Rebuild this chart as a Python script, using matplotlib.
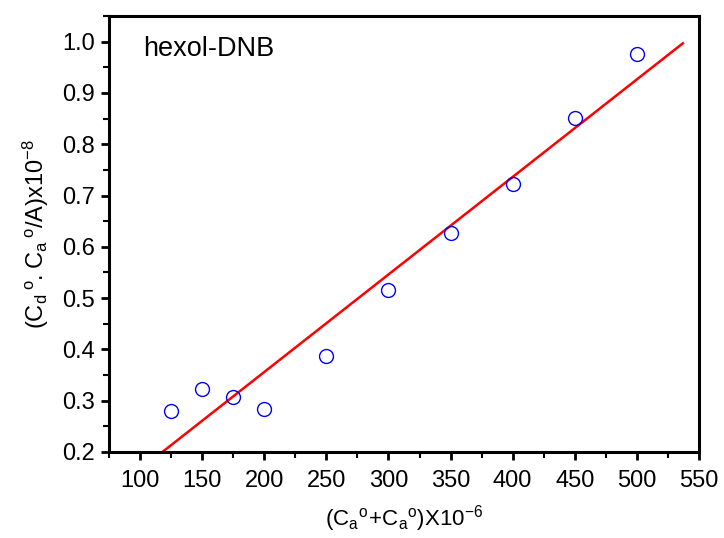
import matplotlib
matplotlib.use("Agg")
import matplotlib.pyplot as plt
from matplotlib.ticker import MultipleLocator
import numpy as np

plt.rcParams['font.family'] = ['Liberation Sans', 'DejaVu Sans']
plt.rcParams['mathtext.fontset'] = 'custom'
plt.rcParams['mathtext.rm'] = 'Liberation Sans'

# concentration sum (x 10^-6) and product ratio (x 10^-8)
conc = [125, 150, 175, 200, 250, 300, 350, 400, 450, 500]
ratio = [0.280, 0.323, 0.308, 0.283, 0.388, 0.515, 0.626, 0.722, 0.851, 0.975]
fit_range = [100, 537]

fig = plt.figure(figsize=(7.24, 5.38), dpi=100)
ax = fig.add_axes([109 / 724, 1 - 452 / 538, 590 / 724, 436 / 538])

slope, icept = np.polyfit(conc, ratio, 1)
xf = np.array(fit_range)
ax.plot(xf, slope * xf + icept, color='red', lw=1.8)
ax.plot(conc, ratio, 'o', mfc='none', mec='blue', ms=10, mew=1.0)

ax.set_xlim(75, 550)
ax.set_ylim(0.2, 1.05)
ax.xaxis.set_minor_locator(MultipleLocator(25))
ax.yaxis.set_minor_locator(MultipleLocator(0.05))
ax.set_yticks(np.arange(0.2, 1.01, 0.1))
ax.set_xticks(np.arange(100, 551, 50))

for s in ax.spines.values():
    s.set_linewidth(2.2)
ax.tick_params(which='major', direction='out', length=6, width=2, labelsize=17, pad=4)
ax.tick_params(axis='x', which='major', pad=7)
ax.tick_params(which='minor', direction='out', length=4, width=1.5)
ax.tick_params(top=False, right=False)

ax.set_xlabel(r'$\mathregular{(C_a{}^o\!+\!C_a{}^o)X10^{-6}}$', fontsize=16, labelpad=8)
ax.set_ylabel(r'$\mathregular{(C_d\,{}^o.C_a\,{}^o/A)x10^{-8}}$', fontsize=17, labelpad=8)

ax.text(0.058, 0.955, 'hexol-DNB', transform=ax.transAxes, fontsize=19.5, va='top', ha='left')

fig.savefig('out.png', dpi=100)
